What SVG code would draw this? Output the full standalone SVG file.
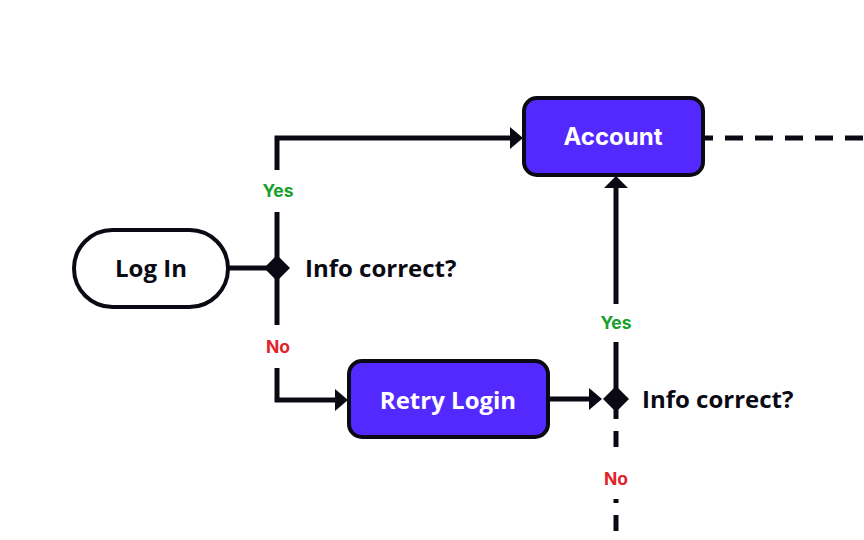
<svg xmlns="http://www.w3.org/2000/svg" width="864" height="540" viewBox="0 0 864 540">
<defs>
<style>
.line{fill:none;stroke:#0B0A14;stroke-width:5}
.dash{fill:none;stroke:#0B0A14;stroke-width:5;stroke-dasharray:18 12}
.vdash{fill:none;stroke:#0B0A14;stroke-width:5;stroke-dasharray:16 12}
.box{fill:#5429FF;stroke:#0B0A14;stroke-width:4}
.pill{fill:#FFFFFF;stroke:#0B0A14;stroke-width:4}
.head{fill:#0B0A14}
.t{font-family:"Open Sans","Noto Sans",sans-serif;font-weight:700;font-size:24px;fill:#0B0A14;dominant-baseline:central}
.tw{font-family:"Inter","Liberation Sans",sans-serif;font-weight:700;font-size:24px;fill:#FFFFFF;text-anchor:middle;dominant-baseline:central}
.tr{font-family:"Open Sans","Noto Sans",sans-serif;font-weight:700;font-size:24px;fill:#FFFFFF;text-anchor:middle;dominant-baseline:central}
.yes{font-family:"Inter","Liberation Sans",sans-serif;font-weight:700;font-size:17.5px;fill:#17A02B;text-anchor:middle;dominant-baseline:central}
.no{font-family:"Inter","Liberation Sans",sans-serif;font-weight:700;font-size:17.5px;fill:#E0242B;text-anchor:middle;dominant-baseline:central}
</style>
</defs>
<rect width="864" height="540" fill="#FFFFFF"/>
<g id="connectors">
<path class="dash" d="M695 138 H864"/>
<path class="line" d="M228 268 H277"/>
<path class="line" d="M277 268 V212"/>
<path class="line" d="M277 170 V138 H512"/>
<polygon class="head" points="510,127 523,138 510,149"/>
<path class="line" d="M277 268 V325"/>
<path class="line" d="M277 368 V400 H336"/>
<polygon class="head" points="335,389 348,400 335,411"/>
<path class="line" d="M549 399 H590"/>
<polygon class="head" points="589,388 602,399 589,410"/>
<path class="line" d="M616 399 V342"/>
<path class="line" d="M616 304 V186"/>
<polygon class="head" points="604,188 616,176 628,188"/>
<path class="vdash" d="M616 403 V540"/>
<rect x="600" y="452" width="32" height="47" fill="#FFFFFF"/>
<text class="yes" x="278" y="190">Yes</text>
<text class="no" x="278" y="346">No</text>
<text class="yes" x="616" y="322">Yes</text>
<text class="no" x="616" y="478">No</text>
</g>
<g id="login">
<rect class="pill" x="74" y="230" width="154" height="77" rx="38.5"/>
<text class="t" x="151" y="267" text-anchor="middle">Log In</text>
</g>
<g id="decision1">
<polygon class="head" points="277,255 290,268 277,281 264,268"/>
<text class="t" x="305" y="267">Info correct?</text>
</g>
<g id="account">
<rect class="box" x="524" y="98" width="179" height="77" rx="13"/>
<text class="tw" x="613" y="136">Account</text>
</g>
<g id="retry">
<rect class="box" x="349" y="361" width="199" height="76" rx="13"/>
<text class="tr" x="448" y="399">Retry Login</text>
</g>
<g id="decision2">
<polygon class="head" points="616,386 629,399 616,412 603,399"/>
<text class="t" x="642" y="398">Info correct?</text>
</g>
</svg>
